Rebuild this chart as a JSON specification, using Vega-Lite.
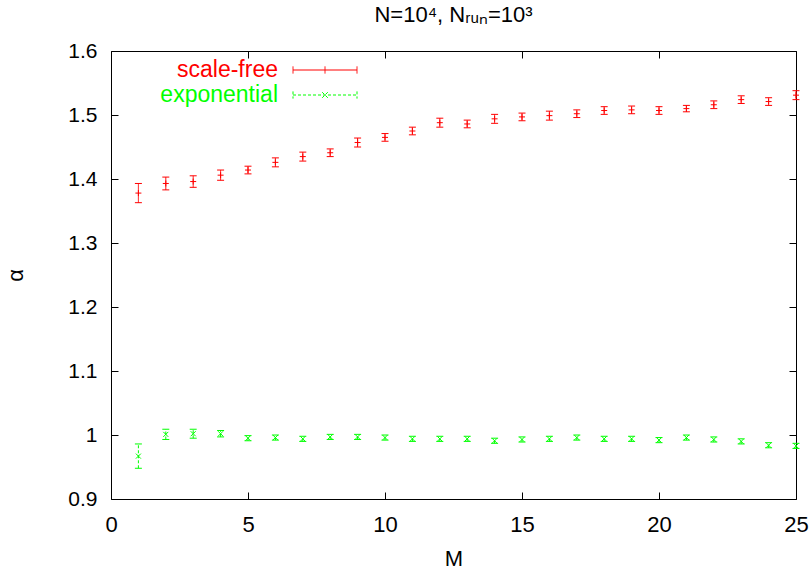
{
  "$schema": "https://vega.github.io/schema/vega-lite/v6.json",
  "width": 685,
  "height": 448,
  "autosize": {"type": "none"},
  "padding": {"left": 111, "top": 51, "right": 15, "bottom": 76},
  "background": "white",
  "config": {
    "font": "Liberation Sans",
    "view": {"stroke": null},
    "axis": {
      "domainColor": "black",
      "domainWidth": 1,
      "tickColor": "black",
      "tickSize": -7,
      "tickWidth": 1,
      "grid": false,
      "labelColor": "black",
      "labelFontSize": 21,
      "labelFlush": false,
      "labelOverlap": false,
      "titleColor": "black",
      "titleFontSize": 22,
      "titleFontWeight": "normal"
    }
  },
  "title": {
    "text": "N=10⁴, Nᵣᵤₙ=10³",
    "fontSize": 22,
    "fontWeight": "normal",
    "color": "black",
    "offset": 13
  },
  "datasets": {
    "pts": [
      {"M": 1, "series": "scale-free", "alpha": 1.378, "lo": 1.363, "hi": 1.393},
      {"M": 2, "series": "scale-free", "alpha": 1.393, "lo": 1.383, "hi": 1.403},
      {"M": 3, "series": "scale-free", "alpha": 1.396, "lo": 1.387, "hi": 1.405},
      {"M": 4, "series": "scale-free", "alpha": 1.406, "lo": 1.398, "hi": 1.414},
      {"M": 5, "series": "scale-free", "alpha": 1.414, "lo": 1.408, "hi": 1.420},
      {"M": 6, "series": "scale-free", "alpha": 1.426, "lo": 1.419, "hi": 1.433},
      {"M": 7, "series": "scale-free", "alpha": 1.435, "lo": 1.428, "hi": 1.442},
      {"M": 8, "series": "scale-free", "alpha": 1.441, "lo": 1.435, "hi": 1.447},
      {"M": 9, "series": "scale-free", "alpha": 1.457, "lo": 1.450, "hi": 1.464},
      {"M": 10, "series": "scale-free", "alpha": 1.465, "lo": 1.459, "hi": 1.471},
      {"M": 11, "series": "scale-free", "alpha": 1.475, "lo": 1.469, "hi": 1.481},
      {"M": 12, "series": "scale-free", "alpha": 1.488, "lo": 1.481, "hi": 1.495},
      {"M": 13, "series": "scale-free", "alpha": 1.486, "lo": 1.480, "hi": 1.492},
      {"M": 14, "series": "scale-free", "alpha": 1.494, "lo": 1.487, "hi": 1.501},
      {"M": 15, "series": "scale-free", "alpha": 1.497, "lo": 1.491, "hi": 1.503},
      {"M": 16, "series": "scale-free", "alpha": 1.499, "lo": 1.492, "hi": 1.506},
      {"M": 17, "series": "scale-free", "alpha": 1.502, "lo": 1.496, "hi": 1.508},
      {"M": 18, "series": "scale-free", "alpha": 1.507, "lo": 1.501, "hi": 1.513},
      {"M": 19, "series": "scale-free", "alpha": 1.508, "lo": 1.502, "hi": 1.514},
      {"M": 20, "series": "scale-free", "alpha": 1.507, "lo": 1.501, "hi": 1.513},
      {"M": 21, "series": "scale-free", "alpha": 1.510, "lo": 1.505, "hi": 1.515},
      {"M": 22, "series": "scale-free", "alpha": 1.516, "lo": 1.510, "hi": 1.522},
      {"M": 23, "series": "scale-free", "alpha": 1.524, "lo": 1.518, "hi": 1.530},
      {"M": 24, "series": "scale-free", "alpha": 1.521, "lo": 1.515, "hi": 1.527},
      {"M": 25, "series": "scale-free", "alpha": 1.531, "lo": 1.524, "hi": 1.538},
      {"M": 1, "series": "exponential", "alpha": 0.967, "lo": 0.948, "hi": 0.986},
      {"M": 2, "series": "exponential", "alpha": 1.001, "lo": 0.993, "hi": 1.009},
      {"M": 3, "series": "exponential", "alpha": 1.002, "lo": 0.995, "hi": 1.009},
      {"M": 4, "series": "exponential", "alpha": 1.002, "lo": 0.997, "hi": 1.007},
      {"M": 5, "series": "exponential", "alpha": 0.995, "lo": 0.991, "hi": 0.999},
      {"M": 6, "series": "exponential", "alpha": 0.996, "lo": 0.992, "hi": 1.000},
      {"M": 7, "series": "exponential", "alpha": 0.994, "lo": 0.990, "hi": 0.998},
      {"M": 8, "series": "exponential", "alpha": 0.997, "lo": 0.993, "hi": 1.001},
      {"M": 9, "series": "exponential", "alpha": 0.997, "lo": 0.993, "hi": 1.001},
      {"M": 10, "series": "exponential", "alpha": 0.996, "lo": 0.992, "hi": 1.000},
      {"M": 11, "series": "exponential", "alpha": 0.994, "lo": 0.990, "hi": 0.998},
      {"M": 12, "series": "exponential", "alpha": 0.994, "lo": 0.990, "hi": 0.998},
      {"M": 13, "series": "exponential", "alpha": 0.994, "lo": 0.990, "hi": 0.998},
      {"M": 14, "series": "exponential", "alpha": 0.991, "lo": 0.987, "hi": 0.995},
      {"M": 15, "series": "exponential", "alpha": 0.993, "lo": 0.989, "hi": 0.997},
      {"M": 16, "series": "exponential", "alpha": 0.994, "lo": 0.990, "hi": 0.998},
      {"M": 17, "series": "exponential", "alpha": 0.996, "lo": 0.992, "hi": 1.000},
      {"M": 18, "series": "exponential", "alpha": 0.994, "lo": 0.990, "hi": 0.998},
      {"M": 19, "series": "exponential", "alpha": 0.994, "lo": 0.990, "hi": 0.998},
      {"M": 20, "series": "exponential", "alpha": 0.992, "lo": 0.988, "hi": 0.996},
      {"M": 21, "series": "exponential", "alpha": 0.996, "lo": 0.992, "hi": 1.000},
      {"M": 22, "series": "exponential", "alpha": 0.993, "lo": 0.989, "hi": 0.997},
      {"M": 23, "series": "exponential", "alpha": 0.990, "lo": 0.986, "hi": 0.994},
      {"M": 24, "series": "exponential", "alpha": 0.984, "lo": 0.980, "hi": 0.988},
      {"M": 25, "series": "exponential", "alpha": 0.983, "lo": 0.979, "hi": 0.987}
    ]
  },
  "data": {"name": "pts"},
  "layer": [
    {
      "encoding": {
        "x": {
          "field": "M",
          "type": "quantitative",
          "scale": {"domain": [0, 25], "nice": false},
          "axis": {
            "orient": "bottom",
            "title": "M",
            "values": [0, 5, 10, 15, 20, 25],
            "labelFontSize": 22,
            "labelPadding": 22,
            "titleX": 342.5,
            "titleY": 59,
            "titleBaseline": "middle",
            "titleAlign": "center"
          }
        },
        "y": {
          "type": "quantitative",
          "scale": {"domain": [0.9, 1.6], "nice": false, "zero": false},
          "axis": {
            "orient": "left",
            "title": "α",
            "values": [0.9, 1.0, 1.1, 1.2, 1.3, 1.4, 1.5, 1.6],
            "format": "~g",
            "labelPadding": 21,
            "titleX": -96,
            "titleY": 224,
            "titleAngle": -90,
            "titleBaseline": "middle",
            "titleAlign": "center"
          }
        },
        "color": {
          "field": "series",
          "type": "nominal",
          "scale": {"domain": ["scale-free", "exponential"], "range": ["#ff0000", "#00ff00"]},
          "legend": {
            "title": null,
            "orient": "none",
            "legendX": 202.5,
            "legendY": 7.5,
            "labelFontSize": 23,
            "labelAlign": "right",
            "labelOffset": -58.5,
            "symbolOffset": 0,
            "symbolSize": 64,
            "symbolStrokeWidth": 1,
            "rowPadding": 1,
            "padding": 0,
            "encode": {
              "labels": {
                "update": {
                  "fill": {"signal": "datum.value === 'scale-free' ? '#ff0000' : '#00ff00'"}
                }
              },
              "symbols": {
                "update": {
                  "shape": {"signal": "datum.value === 'scale-free' ? 'M-8,0H8M-8,-0.9V0.9M8,-0.9V0.9M0,-0.9V0.9' : 'M-8,0H8M-8,-0.9V0.9M8,-0.9V0.9M-0.7,-0.7L0.7,0.7M-0.7,0.7L0.7,-0.7'"},
                  "size": {"value": 64},
                  "strokeDash": {"signal": "datum.value === 'scale-free' ? [1,0] : [4,3]"},
                  "fill": {"value": "transparent"},
                  "stroke": {"signal": "datum.value === 'scale-free' ? '#ff0000' : '#00ff00'"},
                  "opacity": {"value": 1}
                }
              }
            }
          }
        }
      },
      "layer": [
        {
          "mark": {"type": "rule", "strokeWidth": 1},
          "encoding": {
            "y": {"field": "lo"},
            "y2": {"field": "hi"},
            "strokeDash": {
              "field": "series",
              "type": "nominal",
              "scale": {"domain": ["scale-free", "exponential"], "range": [[1, 0], [3, 2]]},
              "legend": null
            }
          }
        },
        {
          "mark": {"type": "point", "shape": "M-1,0H1", "size": 49, "filled": false, "strokeWidth": 1, "opacity": 1},
          "encoding": {"y": {"field": "lo"}}
        },
        {
          "mark": {"type": "point", "shape": "M-1,0H1", "size": 49, "filled": false, "strokeWidth": 1, "opacity": 1},
          "encoding": {"y": {"field": "hi"}}
        },
        {
          "transform": [{"filter": "datum.series === 'scale-free'"}],
          "mark": {"type": "point", "shape": "M-1,0H1M0,-1V1", "size": 36, "filled": false, "strokeWidth": 1, "opacity": 1},
          "encoding": {"y": {"field": "alpha"}}
        },
        {
          "transform": [{"filter": "datum.series === 'exponential'"}],
          "mark": {"type": "point", "shape": "M-1,-1L1,1M-1,1L1,-1", "size": 25, "filled": false, "strokeWidth": 1, "opacity": 1},
          "encoding": {"y": {"field": "alpha"}}
        }
      ]
    },
    {
      "mark": {"type": "rule", "opacity": 0},
      "encoding": {
        "x": {
          "field": "M",
          "type": "quantitative",
          "scale": {"domain": [0, 25], "nice": false},
          "axis": {"orient": "top", "title": null, "labels": false, "values": [0, 5, 10, 15, 20, 25]}
        },
        "y": {
          "field": "alpha",
          "type": "quantitative",
          "scale": {"domain": [0.9, 1.6], "nice": false, "zero": false},
          "axis": {"orient": "right", "title": null, "labels": false, "values": [0.9, 1.0, 1.1, 1.2, 1.3, 1.4, 1.5, 1.6]}
        }
      }
    }
  ],
  "resolve": {"scale": {"x": "independent", "y": "independent"}}
}
